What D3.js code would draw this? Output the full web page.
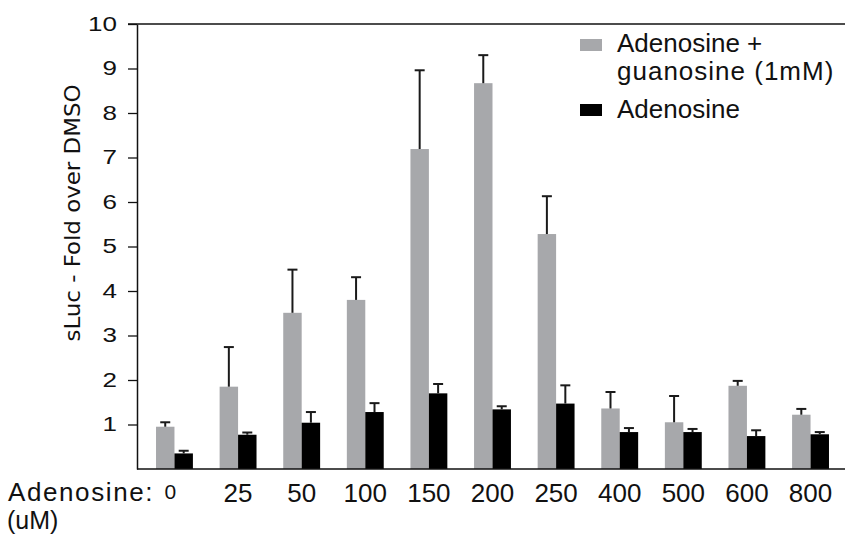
<!DOCTYPE html>
<html>
<head>
<meta charset="utf-8">
<script src="https://cdn.jsdelivr.net/npm/d3@7/dist/d3.min.js"></script>
<style>
  html, body { margin: 0; padding: 0; background: #fff; }
  svg { display: block; }
  text { font-family: "Liberation Sans", Arial, Helvetica, sans-serif; fill: #111; }
</style>
</head>
<body>
<svg id="chart"></svg>
<script>
// Adenosine dose response, sLuc fold over DMSO

const doses = ["0", "25", "50", "100", "150", "200", "250", "400", "500", "600", "800"];
const withGuanosine = [0.95, 1.85, 3.51, 3.80, 7.19, 8.67, 5.28, 1.36, 1.05, 1.87, 1.22];
const withGuanosineErr = [0.10, 0.89, 0.97, 0.51, 1.77, 0.63, 0.85, 0.37, 0.59, 0.11, 0.13];
const adenosineOnly = [0.35, 0.77, 1.04, 1.28, 1.70, 1.34, 1.47, 0.83, 0.83, 0.74, 0.78];
const adenosineOnlyErr = [0.06, 0.05, 0.24, 0.20, 0.21, 0.07, 0.41, 0.09, 0.07, 0.13, 0.05];
const yTicks = [1, 2, 3, 4, 5, 6, 7, 8, 9, 10];
const seriesNames = ["Adenosine + guanosine (1mM)", "Adenosine"];
const seriesColors = ["#a7a8ab", "#000000"];

const width = 845, height = 535;
const axisX = 137, topY = 24, baseY = 469;

const svg = d3.select("#chart").attr("width", width).attr("height", height);

const x0 = d3.scaleBand()
    .domain(doses)
    .range([axisX, 848])
    .paddingInner(0.42)
    .paddingOuter(0.299);

const x1 = d3.scaleBand()
    .domain([0, 1])
    .range([0, x0.bandwidth()]);

const y = d3.scaleLinear()
    .domain([0, 10])
    .range([baseY, topY]);

const rows = doses.map((d, i) => ({
    dose: d,
    values: [
        { s: 0, v: withGuanosine[i], e: withGuanosineErr[i] },
        { s: 1, v: adenosineOnly[i], e: adenosineOnlyErr[i] }
    ]
}));

// top frame line
svg.append("line")
    .attr("x1", axisX - 9).attr("x2", width)
    .attr("y1", y(10)).attr("y2", y(10))
    .attr("stroke", "#111").attr("stroke-width", 1.5);

// y axis
const yAxis = svg.append("g")
    .attr("transform", `translate(${axisX},0)`)
    .call(d3.axisLeft(y).tickValues(yTicks).tickSize(9).tickPadding(11).tickSizeOuter(0));
yAxis.select(".domain").attr("stroke", "#111").attr("stroke-width", 1.5);
yAxis.selectAll(".tick line").attr("stroke", "#111").attr("stroke-width", 1.3);
yAxis.selectAll(".tick text")
    .style("font-size", "20px")
    .attr("fill", "#111")
    .each(function() {
        const w = this.getComputedTextLength();
        d3.select(this).attr("textLength", w * 1.3).attr("lengthAdjust", "spacingAndGlyphs");
    });

// bars
const groups = svg.append("g").selectAll("g")
    .data(rows)
    .join("g")
    .attr("transform", d => `translate(${x0(d.dose)},0)`);

groups.selectAll("rect")
    .data(d => d.values)
    .join("rect")
    .attr("x", d => x1(d.s))
    .attr("width", x1.bandwidth())
    .attr("y", d => y(d.v))
    .attr("height", d => baseY - y(d.v))
    .attr("fill", d => seriesColors[d.s]);

// error bars (upper only)
const err = groups.selectAll("g.err")
    .data(d => d.values)
    .join("g")
    .attr("class", "err")
    .attr("stroke", "#1a1a1a")
    .attr("stroke-width", 2);

err.append("line")
    .attr("x1", d => x1(d.s) + x1.bandwidth() / 2)
    .attr("x2", d => x1(d.s) + x1.bandwidth() / 2)
    .attr("y1", d => y(d.v))
    .attr("y2", d => y(d.v + d.e));

err.append("line")
    .attr("x1", d => x1(d.s) + x1.bandwidth() / 2 - 5)
    .attr("x2", d => x1(d.s) + x1.bandwidth() / 2 + 5)
    .attr("y1", d => y(d.v + d.e))
    .attr("y2", d => y(d.v + d.e));

// x baseline
svg.append("line")
    .attr("x1", axisX).attr("x2", width)
    .attr("y1", baseY).attr("y2", baseY)
    .attr("stroke", "#111").attr("stroke-width", 1.5);

// x labels
svg.append("g").selectAll("text")
    .data(doses)
    .join("text")
    .attr("x", (d, i) => x0(d) + x0.bandwidth() / 2 - (i === 0 ? 4 : 0))
    .attr("y", (d, i) => i === 0 ? 499 : 502)
    .attr("text-anchor", "middle")
    .style("font-size", (d, i) => i === 0 ? "21px" : "26px")
    .text(d => d);

svg.append("text")
    .attr("x", 8).attr("y", 501)
    .style("font-size", "26px")
    .style("letter-spacing", "1.6px")
    .text("Adenosine:");

svg.append("text")
    .attr("x", 7).attr("y", 529)
    .style("font-size", "25px")
    .text("(uM)");

// y title
svg.append("text")
    .attr("transform", "translate(80,213) rotate(-90)")
    .attr("text-anchor", "middle")
    .attr("textLength", 257)
    .attr("lengthAdjust", "spacingAndGlyphs")
    .style("font-family", "'Liberation Sans Narrow', 'DejaVu Sans Condensed', sans-serif")
    .style("font-size", "21px")
    .text("sLuc - Fold over DMSO");

// legend
const legend = svg.append("g");
legend.append("rect").attr("x", 580).attr("y", 39).attr("width", 22).attr("height", 12).attr("fill", seriesColors[0]);
legend.append("rect").attr("x", 580).attr("y", 104).attr("width", 22).attr("height", 12).attr("fill", seriesColors[1]);
legend.append("text").attr("x", 617).attr("y", 52).style("font-size", "26px").text("Adenosine +");
legend.append("text").attr("x", 617).attr("y", 80).style("font-size", "26px").style("letter-spacing", "1px").text("guanosine (1mM)");
legend.append("text").attr("x", 617).attr("y", 118).style("font-size", "26px").text(seriesNames[1]);
</script>
</body>
</html>
